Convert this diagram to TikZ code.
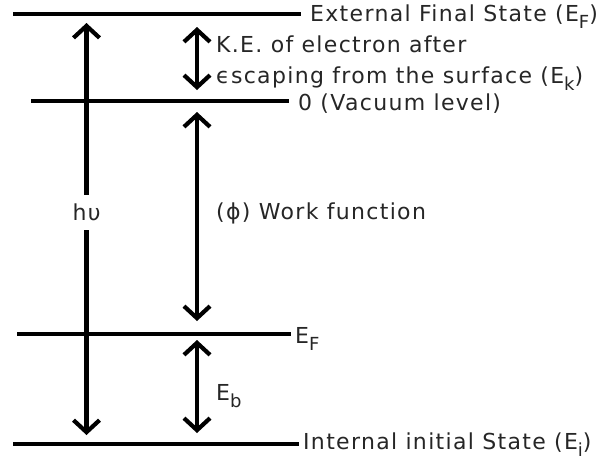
\documentclass[tikz,border=0pt]{standalone}
\usepackage{fontspec}
\usepackage{xcolor}
\usepackage{tikz}
\usetikzlibrary{
  arrows.meta
}
\newfontfamily\LevelFont[LetterSpace=6]{DejaVu Sans}
\colorlet{LevelInk}{black!85}
\newcommand{\LevelSub}[1]{\raisebox{-7pt}{\fontsize{18}{18}\selectfont #1}}
\tikzset{
  every picture/.style = {line join=round, line cap=butt},
  level line/.style = {draw=black, line width=4.5pt},
  gap arrow/.style = {
    {Straight Barb[length=12pt,width=26pt]}-{Straight Barb[length=12pt,width=26pt]},
    draw=black,
    line width=4.2pt
  },
  level label/.style = {
    font=\fontsize{22}{30}\LevelFont,
    text=LevelInk,
    inner sep=0pt,
    anchor=base west,
    align=left
  },
  nu label/.style = {
    font=\fontsize{22}{24}\LevelFont,
    text=LevelInk,
    fill=white,
    inner sep=1pt,
    minimum height=35pt
  },
}

\begin{document}
\begin{tikzpicture}[x=1pt,y=-1pt]
  \useasboundingbox (0,0) rectangle (616,466);

  % energy levels
  \draw[level line] (13,14) -- (301,14);
  \draw[level line] (31,101) -- (289,101);
  \draw[level line] (17,334) -- (291,334);
  \draw[level line] (13,444) -- (299,444);

  % arrow ends
  \coordinate (hvTop) at (86.5,23);
  \coordinate (hvBot) at (86.5,435);
  \coordinate (keTop) at (197,27);
  \coordinate (keBot) at (197,90);
  \coordinate (wfTop) at (197,112);
  \coordinate (wfBot) at (197,321);
  \coordinate (ebTop) at (197,340);
  \coordinate (ebBot) at (197,433);

  \draw[gap arrow] (hvTop) -- (hvBot);
  \draw[gap arrow] (keTop) -- (keBot);
  \draw[gap arrow] (wfTop) -- (wfBot);
  \draw[gap arrow] (ebTop) -- (ebBot);

  \node[nu label] (hvLabel) at (86.5,212.5) {hυ};

  \node[level label] (finalLabel) at (310,21) {External Final State (E\LevelSub{F})};
  \node[level label] (keLabel) at (216,52) {K.E. of electron after};
  \node[level label] (keLabelTwo) at (216,83) {ϵscaping from the surface (E\LevelSub{k})};
  \node[level label] (vacLabel) at (298,110) {0 (Vacuum level)};
  \node[level label] (wfLabel) at (216,219) {(ϕ) Work function};
  \node[level label] (fermiLabel) at (295,343) {E\LevelSub{F}};
  \node[level label] (ebLabel) at (216,400) {E\LevelSub{b}};
  \node[level label] (initLabel) at (303,449) {Internal initial State (E\LevelSub{i})};
\end{tikzpicture}
\end{document}
